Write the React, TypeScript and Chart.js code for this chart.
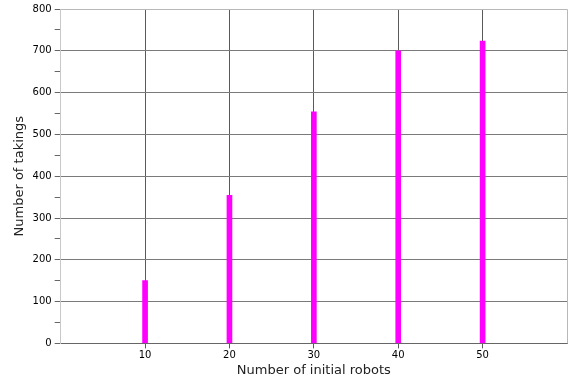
import React, { useEffect, useRef } from "react";
import { Chart, registerables } from "chart.js";
Chart.register(...registerables);

const robots = [10, 20, 30, 40, 50];
const takings = [150, 354, 554, 700, 723];
const xTitle = "Number of initial robots";
const yTitle = "Number of takings";

const framePlugin = {
  id: "frame",
  afterDraw(chart: any) {
    const { ctx, chartArea } = chart;
    ctx.save();
    ctx.strokeStyle = "#b8b8b8";
    ctx.lineWidth = 1;
    ctx.beginPath();
    ctx.moveTo(chartArea.left, chartArea.top + 0.5);
    ctx.lineTo(chartArea.right + 0.5, chartArea.top + 0.5);
    ctx.lineTo(chartArea.right + 0.5, chartArea.bottom);
    ctx.stroke();
    ctx.restore();
  },
};

export default function App() {
  const ref = useRef<HTMLCanvasElement>(null);
  useEffect(() => {
    const chart = new Chart(ref.current!, {
      type: "bar",
      data: {
        datasets: [
          {
            data: robots.map((x, i) => ({ x, y: takings[i] })),
            backgroundColor: "#ff00ff",
            barThickness: 5,
          },
        ],
      },
      options: {
        animation: false,
        responsive: false,
        layout: { padding: { top: 8, right: 8, left: 12, bottom: 1 } },
        plugins: { legend: { display: false }, tooltip: { enabled: false } },
        scales: {
          x: {
            type: "linear",
            min: 0,
            max: 60,
            offset: false,
            ticks: {
              stepSize: 10,
              color: "#000",
              font: { family: "DejaVu Sans", size: 10 },
              callback: (v: any) => (v === 0 || v === 60 ? "" : String(v)),
              maxRotation: 0,
              padding: 1,
            },
            grid: {
              offset: false,
              color: (c: any) => (c.tick && (c.tick.value === 0 || c.tick.value === 60) ? "rgba(0,0,0,0)" : "#5a5a5a"),
              tickColor: (c: any) => (c.tick && (c.tick.value === 0 || c.tick.value === 60) ? "rgba(0,0,0,0)" : "#5a5a5a"),
              tickLength: 5,
            },
            border: { color: "#666" },
            title: {
              display: true,
              text: xTitle,
              color: "#222",
              font: { family: "DejaVu Sans", size: 13 },
              padding: { top: 0, bottom: 0 },
            },
          },
          y: {
            min: 0,
            max: 800,
            ticks: {
              stepSize: 50,
              color: "#000",
              font: { family: "DejaVu Sans", size: 10 },
              callback: (v: any) => (v % 100 === 0 ? String(v) : ""),
            },
            grid: {
              color: (c: any) => (c.tick && c.tick.value % 100 === 0 && c.tick.value !== 0 ? "#7a7a7a" : "rgba(0,0,0,0)"),
              tickColor: "#666",
              tickLength: 6,
            },
            border: { color: "#c8c8c8" },
            title: {
              display: true,
              text: yTitle,
              color: "#222",
              font: { family: "DejaVu Sans", size: 13 },
              padding: { top: 0, bottom: 2 },
            },
          },
        },
      },
      plugins: [framePlugin],
    } as any);
    return () => chart.destroy();
  }, []);
  return (
    <div style={{ position: "fixed", left: 0, top: 0, width: 575, height: 379, background: "#fff" }}>
      <canvas ref={ref} width={575} height={379} />
    </div>
  );
}
